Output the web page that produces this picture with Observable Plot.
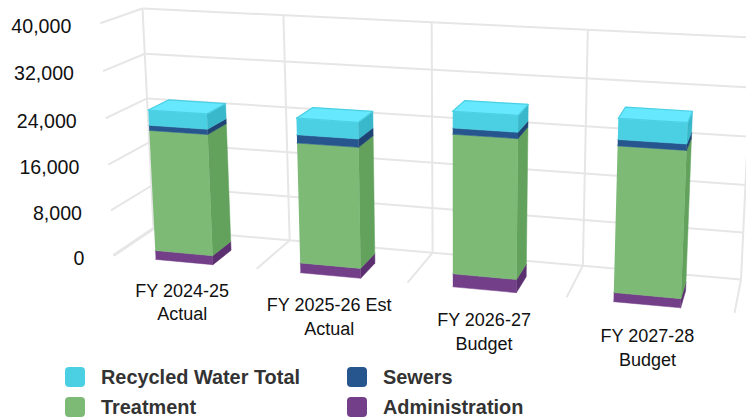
<!DOCTYPE html>
<html>
<head>
<meta charset="utf-8">
<script src="https://cdn.jsdelivr.net/npm/d3@7"></script>
<script src="https://cdn.jsdelivr.net/npm/@observablehq/plot@0.6"></script>
<style>
  html, body { margin: 0; padding: 0; background: #fff; overflow: hidden; }
  #wrap { position: relative; width: 746px; height: 418px; }
  #legend { position: absolute; left: 65px; top: 362px; display: grid;
    grid-template-columns: 282px auto; grid-auto-rows: 30px;
    font: bold 19.9px "Liberation Sans", Arial, sans-serif; color: #333; }
  #legend div { display: flex; align-items: center; }
  #legend i { display: inline-block; width: 20px; height: 20px; border-radius: 4px; margin-right: 16px; }
</style>
</head>
<body>
<div id="wrap"><div id="chart"></div><div id="legend"></div></div>
<script>
// Data (stacked bottom to top: administration, treatment, sewers, recycled)
const categories = ["FY 2024-25\nActual", "FY 2025-26 Est\nActual", "FY 2026-27\nBudget", "FY 2027-28\nBudget"];
const recycled = [2600, 2750, 2700, 3300];
const sewers = [870, 1370, 1000, 1000];
const treatment = [20850, 20330, 23000, 23600];
const administration = [1570, 1700, 2200, 1500];
const yTicks = [0, 8000, 16000, 24000, 32000, 40000];
const yMax = 40000;

const seriesNames = ["Recycled Water Total", "Sewers", "Treatment", "Administration"];
const frontColors = ["#4bd0e3", "#27568f", "#7cba76", "#733f88"];
const sideColors = ["#39b7cb", "#1f4474", "#62a25d", "#5c3070"];
const topColor = "#66e8ff";

// Camera: world box u (across), v (value), w (back 0 to front 1) seen in perspective
const cam = {
  origin: [153, 228], uEnd: [740.5, 279], vEnd: [142, 8], wEnd: [113, 255],
  cu: -0.095, cv: -0.035, cw: -0.055
};
function project(u, v, w) {
  const d = 1 + cam.cu * u + cam.cv * v + cam.cw * w;
  const f = k => (cam.origin[k]
    + u * (cam.uEnd[k] * (1 + cam.cu) - cam.origin[k])
    + v * (cam.vEnd[k] * (1 + cam.cv) - cam.origin[k])
    + w * (cam.wEnd[k] * (1 + cam.cw) - cam.origin[k])) / d;
  return [f(0), f(1)];
}
const P = (u, v, w) => { const [x, y] = project(u, v, w); return {x, y}; };

const n = categories.length;
const barFrom = 0.3, barTo = 0.7, barPitch = 0.995, wBack = 0.5, wFront = 1.0;

// Grid
const grid = [];
let gid = 0;
const seg = (a, b, sw = 2) => { gid++; grid.push({...a, id: gid, sw}, {...b, id: gid, sw}); };
for (const t of yTicks) {
  seg(P(0, t / yMax, 0), P(1, t / yMax, 0));
  seg(P(0, t / yMax, 1), P(0, t / yMax, 0));
}
for (let i = 0; i <= n; i++) {
  seg(P(i / n, 0, 0), P(i / n, 1, 0));
  seg(P(i / n, 0, 1), P(i / n, 0, 0), i === 0 ? 3 : 2);
}

// Bars
const faces = [];
let fid = 0;
function face(pts, color) {
  fid++;
  for (const p of pts) faces.push({...p, id: fid, color});
}
const tops = [];
categories.forEach((c, i) => {
  const u0 = (i * barPitch + barFrom) / n, u1 = (i * barPitch + barTo) / n;
  const stack = [[administration[i], 3], [treatment[i], 2], [sewers[i], 1], [recycled[i], 0]];
  let base = 0;
  for (const [val, s] of stack) {
    const v0 = base / yMax, v1 = (base + val) / yMax;
    face([P(u0, v0, wFront), P(u1, v0, wFront), P(u1, v1, wFront), P(u0, v1, wFront)], frontColors[s]);
    face([P(u1, v0, wFront), P(u1, v0, wBack), P(u1, v1, wBack), P(u1, v1, wFront)], sideColors[s]);
    if (s === 0) {
      const t = [P(u0, v1, wFront), P(u1, v1, wFront), P(u1, v1, wBack), P(u0, v1, wBack), P(u0, v1, wFront)];
      face(t, topColor);
      tops.push(...t.map(p => ({...p, id: i})));
    }
    base += val;
  }
});

// Labels
const yLabels = yTicks.map(t => ({...P(0, t / yMax, 1), label: d3.format(",")(t)}));
const xLabels = categories.map((c, i) => {
  const p = P((i + 0.5) / n, 0, 1);
  return {x: p.x, y: p.y + i, label: c};
});

const H = 368;
const chart = Plot.plot({
  width: 746, height: H, margin: 0,
  x: {domain: [0, 746], range: [0, 746], axis: null},
  y: {domain: [0, H], range: [0, H], axis: null},
  marks: [
    Plot.line(grid, {x: "x", y: "y", z: "id", stroke: "#e6e6e6", strokeWidth: "sw", strokeLinecap: "butt"}),
    Plot.line(faces, {x: "x", y: "y", z: "id", fill: "color", stroke: "color", strokeWidth: 0.5}),
    Plot.line(tops, {x: "x", y: "y", z: "id", stroke: frontColors[0], strokeWidth: 1.2}),
    Plot.text(yLabels, {x: "x", y: "y", text: "label", textAnchor: "end", dx: -29, dy: 3,
      fontSize: 19.6, fontFamily: "Liberation Sans", fill: "#111"}),
    Plot.text(xLabels, {x: "x", y: "y", text: "label", textAnchor: "middle", lineAnchor: "top", lineHeight: 1.33, dy: 17.5, dx: -2,
      fontSize: 18, fontFamily: "Liberation Sans", fill: "#111"})
  ]
});
chart.style.overflow = "visible";
document.getElementById("chart").append(chart);

const legendOrder = [0, 1, 2, 3];
const lg = document.getElementById("legend");
for (const s of legendOrder) {
  const d = document.createElement("div");
  const sw = document.createElement("i");
  sw.style.background = frontColors[s];
  d.append(sw, document.createTextNode(seriesNames[s]));
  lg.append(d);
}
</script>
</body>
</html>
